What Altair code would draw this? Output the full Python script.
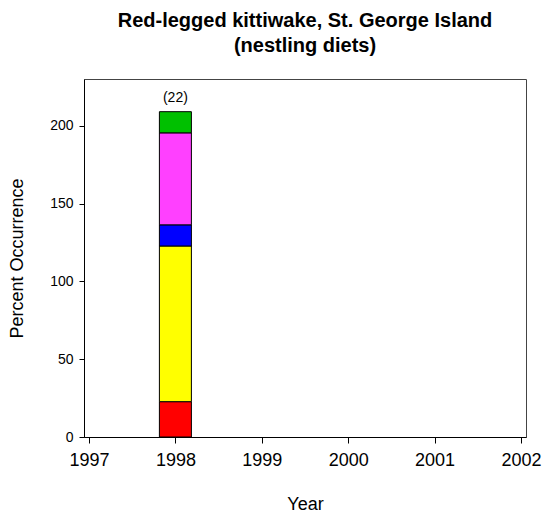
import altair as alt
import pandas as pd

# Data
years = [1998, 1998, 1998, 1998, 1998]
prey = ["Prey A", "Prey B", "Prey C", "Prey D", "Prey E"]
percent = [22.7, 100.0, 13.6, 59.1, 13.6]
stack_order = [1, 2, 3, 4, 5]
colors = ["#FF0000", "#FFFF00", "#0000FF", "#FF40FF", "#00C000"]

label_years = [1998]
sample_sizes = ["(22)"]

year_ticks = [1997, 1998, 1999, 2000, 2001, 2002]
pct_ticks = [0, 50, 100, 150, 200]

df = pd.DataFrame({"Year": years, "Prey": prey, "Percent": percent, "order": stack_order})
lab = pd.DataFrame({"Year": label_years, "label": sample_sizes,
                    "total": [sum(percent)]})

FONT = "Liberation Sans"

x_scale = alt.Scale(domain=[1997, 2002], nice=False, zero=False)
y_scale = alt.Scale(domain=[0, 230], nice=False)

bars = alt.Chart(df).mark_bar(size=32, stroke="black", strokeWidth=1).encode(
    x=alt.X("Year:Q", scale=x_scale,
            axis=alt.Axis(values=year_ticks, format="d", title="Year", grid=False,
                          labelFontSize=18, titleFontSize=18, labelFont=FONT, titleFont=FONT,
                          titleFontWeight="normal", labelColor="black", titleColor="black",
                          domainColor="black", tickColor="black", tickSize=6,
                          labelPadding=8, titlePadding=26, labelFlush=False)),
    y=alt.Y("Percent:Q", stack="zero", scale=y_scale,
            axis=alt.Axis(values=pct_ticks, title="Percent Occurrence", grid=False,
                          labelFontSize=14, titleFontSize=18, labelFont=FONT, titleFont=FONT,
                          titleFontWeight="normal", labelColor="black", titleColor="black",
                          domainColor="black", tickColor="black", tickSize=5,
                          labelPadding=6, titlePadding=23)),
    color=alt.Color("Prey:N", scale=alt.Scale(domain=prey, range=colors), legend=None),
    order=alt.Order("order:Q"),
)

text = alt.Chart(lab).mark_text(fontSize=14, font=FONT, dy=-14, color="black").encode(
    x=alt.X("Year:Q", scale=x_scale),
    y=alt.Y("total:Q", scale=y_scale),
    text="label:N",
)

chart = (bars + text).properties(
    width=442,
    height=358,
    autosize=alt.AutoSizeParams(type="none"),
    padding={"left": 76, "top": 71, "right": 16, "bottom": 75},
    title=alt.TitleParams(
        text=["Red-legged kittiwake, St. George Island", "(nestling diets)"],
        fontSize=20, font=FONT, fontWeight="bold", color="black",
        anchor="middle", frame="group", lineHeight=25, offset=23,
    ),
).configure_view(stroke="#444444", strokeWidth=1)

chart.save("out.html", embed_options={"renderer": "svg", "actions": False})
